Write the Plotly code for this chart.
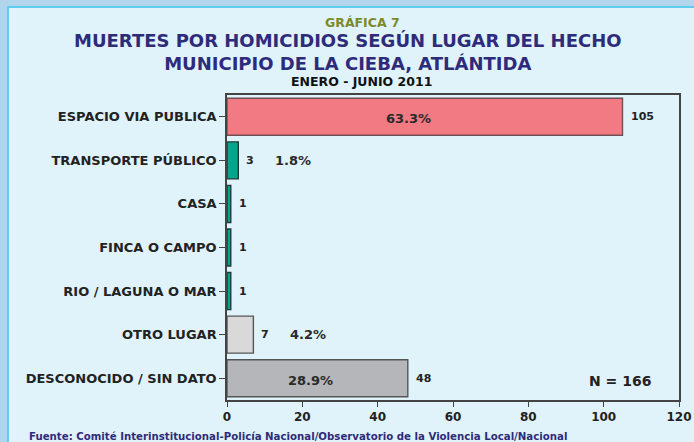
import plotly.graph_objects as go

categories = ["ESPACIO VIA PUBLICA", "TRANSPORTE PÚBLICO", "CASA", "FINCA O CAMPO",
              "RIO / LAGUNA O MAR", "OTRO LUGAR", "DESCONOCIDO / SIN DATO"]
counts = [105, 3, 1, 1, 1, 7, 48]
pct_labels = ["63.3%", "1.8%", "", "", "", "4.2%", "28.9%"]
pct_inside = [True, False, False, False, False, False, True]
bar_colors = ["#f27a83", "#04a68b", "#04a68b", "#04a68b", "#04a68b", "#d9d9da", "#b5b6ba"]
line_colors = ["#6e5055", "#1f3b35", "#1f3b35", "#1f3b35", "#1f3b35", "#555555", "#555555"]
x_ticks = [0, 20, 40, 60, 80, 100, 120]
total_n = 166

FONT = "'DejaVu Sans', sans-serif"
W, H = 694, 442
L, R, T, B = 227, 15, 95, 42
PW, PH = W - L - R, H - T - B

def px(x):
    return (x - L) / PW

def py(y):
    return (H - B - y) / PH

fig = go.Figure()
fig.add_trace(go.Bar(
    y=categories, x=counts, orientation="h",
    width=0.85,
    marker=dict(color=bar_colors, line=dict(color=line_colors, width=1.4)),
    hoverinfo="skip",
))

ann = []
for c, v, p, inside in zip(categories, counts, pct_labels, pct_inside):
    ann.append(dict(x=v, y=c, xref="x", yref="y", text=f"<b>{v}</b>", showarrow=False,
                    xanchor="left", xshift=6, font=dict(family=FONT, size=11, color="#222222")))
    if p:
        if inside:
            ann.append(dict(x=v * 0.46, y=c, xref="x", yref="y", text=f"<b>{p}</b>", showarrow=False,
                            xanchor="center", yshift=-2, font=dict(family=FONT, size=13, color="#2a2a2a")))
        else:
            ann.append(dict(x=v, y=c, xref="x", yref="y", text=f"<b>{p}</b>", showarrow=False,
                            xanchor="left", xshift=35, font=dict(family=FONT, size=13, color="#2a2a2a")))

ann += [
    dict(x=px(362), y=py(22), xref="paper", yref="paper", text="<b>GRÁFICA 7</b>", showarrow=False,
         xanchor="center", yanchor="middle", font=dict(family=FONT, size=12.5, color="#7d8a2c")),
    dict(x=px(348), y=py(52), xref="paper", yref="paper",
         text="<b>MUERTES POR HOMICIDIOS SEGÚN LUGAR DEL HECHO<br>MUNICIPIO DE LA CIEBA, ATLÁNTIDA</b>",
         showarrow=False, align="center",
         xanchor="center", yanchor="middle", font=dict(family=FONT, size=18, color="#2e2b7a")),
    dict(x=px(361), y=py(81.5), xref="paper", yref="paper", text="<b>ENERO - JUNIO 2011</b>", showarrow=False,
         xanchor="center", yanchor="middle", font=dict(family=FONT, size=12.5, color="#111111")),
    dict(x=px(653), y=py(381), xref="paper", yref="paper", text=f"<b>N = {total_n}</b>", showarrow=False,
         xanchor="right", yanchor="middle", font=dict(family=FONT, size=14, color="#222222")),
    dict(x=px(27), y=py(436), xref="paper", yref="paper",
         text="<b>Fuente: Comité Interinstitucional-Policía Nacional/Observatorio de la Violencia Local/Nacional</b>",
         showarrow=False, xanchor="left", yanchor="middle",
         font=dict(family=FONT, size=10.2, color="#2e2b7a")),
]

shapes = [
    dict(type="rect", xref="paper", yref="paper", x0=px(8), x1=px(720), y0=py(7), y1=py(470),
         fillcolor="#e0f3fa", line=dict(color="#5fcdf0", width=2), layer="below"),
]

fig.update_layout(
    template="none",
    width=W, height=H,
    margin=dict(l=L, r=R, t=T, b=B, pad=0, autoexpand=False),
    paper_bgcolor="#b2d5ee", plot_bgcolor="#e0f3fa",
    showlegend=False,
    annotations=ann, shapes=shapes,
    font=dict(family=FONT, color="#222222"),
)
fig.update_xaxes(range=[0, 120], tickvals=x_ticks, ticktext=[f"<b>{t}</b>" for t in x_ticks],
                 ticks="outside", ticklen=5, tickwidth=1.2, tickcolor="#444444", automargin=False,
                 showline=True, linecolor="#444444", linewidth=1.5, mirror=True,
                 showgrid=False, zeroline=False, tickfont=dict(family=FONT, size=12, color="#222222"))
fig.update_yaxes(categoryorder="array", categoryarray=categories, range=[6.5, -0.5],
                 tickvals=categories, ticktext=[f"<b>{c}</b>" for c in categories],
                 ticks="outside", ticklen=6, tickwidth=1.2, tickcolor="#444444", automargin=False,
                 showline=True, linecolor="#444444", linewidth=1.5, mirror=True,
                 showgrid=False, zeroline=False, tickfont=dict(family=FONT, size=13, color="#222222"))

fig.write_html("out.html", config={"displayModeBar": False},
               post_script="document.body.style.margin='0';document.body.style.overflow='hidden';")
